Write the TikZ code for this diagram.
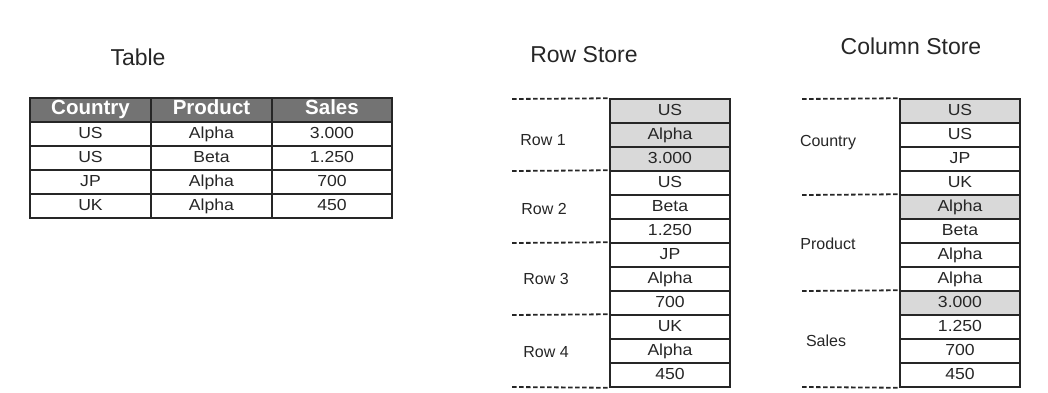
\documentclass[tikz,border=0pt]{standalone}
\usepackage{fontspec}
\setmainfont{Liberation Sans}
\newfontfamily\cellfont[FakeStretch=1.1]{Liberation Sans}
\definecolor{hdrgray}{HTML}{737373}
\definecolor{lightgray}{HTML}{D9D9D9}
\definecolor{linegray}{HTML}{262626}
\begin{document}
\begin{tikzpicture}[x=1pt,y=-1pt,
  title/.style={font=\fontsize{23}{27}\selectfont, anchor=base, text=black!85},
  tcell/.style={draw=linegray, line width=1.5pt, minimum height=24pt, inner sep=0pt,
                text height=11pt, text depth=3pt,
                font=\cellfont\fontsize{16}{18}\selectfont, text=black!85},
  hcell/.style={tcell, fill=hdrgray, text=white, text height=14pt, text depth=4.5pt,
                font=\bfseries\fontsize{20.5}{23}\selectfont},
  wcell/.style={tcell, minimum width=120pt},
  gcell/.style={wcell, fill=lightgray},
  lbl/.style={font=\fontsize{16}{18}\selectfont, text=black!85},
  sep/.style={draw=linegray, line width=1.8pt, dash pattern=on 4.5pt off 2.5pt}
]
\useasboundingbox (0,0) rectangle (1048,392);

% titles
\node[title] (ttab) at (138,65) {Table};
\node[title] (trow) at (584,62) {Row Store};
\node[title] (tcol) at (911,54) {Column Store};

% table header
\node[hcell, minimum width=121pt] (h1) at (90.5,110) {Country};
\node[hcell, minimum width=121pt] (h2) at (211.5,110) {Product};
\node[hcell, minimum width=120pt] (h3) at (332,110) {Sales};
% table body
\foreach \a/\b/\c [count=\i] in {US/Alpha/3.000, US/Beta/1.250, JP/Alpha/700, UK/Alpha/450}{
  \node[tcell, minimum width=121pt] (t\i-1) at (90.5,110+24*\i) {\a};
  \node[tcell, minimum width=121pt] (t\i-2) at (211.5,110+24*\i) {\b};
  \node[tcell, minimum width=120pt] (t\i-3) at (332,110+24*\i) {\c};
}

% row store
\foreach \v/\f [count=\i] in {US/gcell, Alpha/gcell, 3.000/gcell, US/wcell, Beta/wcell, 1.250/wcell,
                              JP/wcell, Alpha/wcell, 700/wcell, UK/wcell, Alpha/wcell, 450/wcell}{
  \node[\f] (r\i) at (670,87+24*\i) {\v};
}
\coordinate (ra) at (512,99);
\coordinate (rb) at (512,171);
\coordinate (rc) at (512,243);
\coordinate (rd) at (512,315);
\coordinate (re) at (512,387);
\draw[sep] (ra) -- (r1.north west);
\draw[sep] (rb) -- (r4.north west);
\draw[sep] (rc) -- (r7.north west);
\draw[sep] (rd) -- (r10.north west);
\draw[sep] (re) -- (r12.south west);
\node[lbl] (rl1) at (543,140) {Row 1};
\node[lbl] (rl2) at (544,209) {Row 2};
\node[lbl] (rl3) at (546,279) {Row 3};
\node[lbl] (rl4) at (546,352) {Row 4};

% column store
\foreach \v/\f [count=\i] in {US/gcell, US/wcell, JP/wcell, UK/wcell, Alpha/gcell, Beta/wcell,
                              Alpha/wcell, Alpha/wcell, 3.000/gcell, 1.250/wcell, 700/wcell, 450/wcell}{
  \node[\f] (c\i) at (960,87+24*\i) {\v};
}
\coordinate (ca) at (802,99);
\coordinate (cb) at (802,195);
\coordinate (cc) at (802,291);
\coordinate (cd) at (802,387);
\draw[sep] (ca) -- (c1.north west);
\draw[sep] (cb) -- (c5.north west);
\draw[sep] (cc) -- (c9.north west);
\draw[sep] (cd) -- (c12.south west);
\node[lbl] (cl1) at (828,143) {Country};
\node[lbl] (cl2) at (828,244) {Product};
\node[lbl] (cl3) at (826,341) {Sales};
\end{tikzpicture}
\end{document}
